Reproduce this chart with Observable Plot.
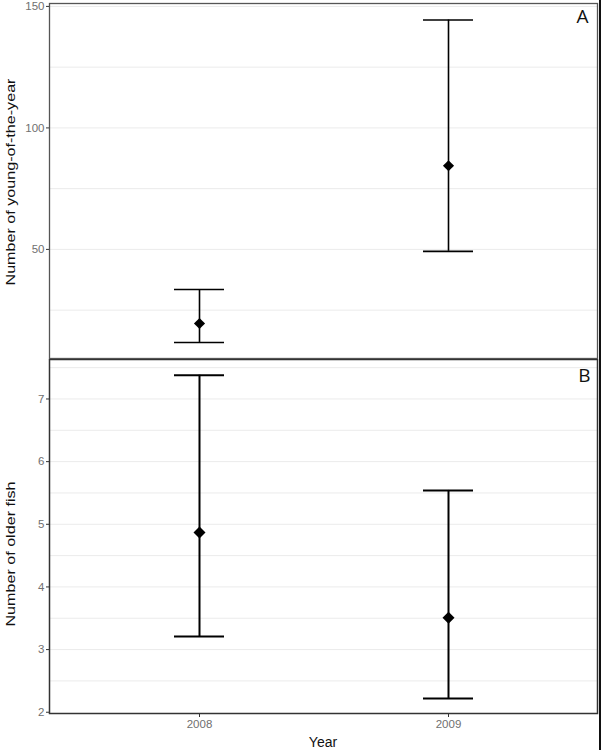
<!DOCTYPE html>
<html>
<head>
<meta charset="utf-8">
<script src="https://cdn.jsdelivr.net/npm/d3@7"></script>
<script src="https://cdn.jsdelivr.net/npm/@observablehq/plot@0.6"></script>
<style>
  html, body { margin: 0; padding: 0; background: #fff; }
  #wrap { position: relative; width: 602px; height: 750px; overflow: hidden; background: #fff;
          font-family: "Liberation Sans", Arial, sans-serif; }
  .panel { position: absolute; left: 0; }
  .ytitle { position: absolute; font-size: 13px; color: #111; white-space: nowrap;
            transform: translate(-50%, -50%) rotate(-90deg) scaleX(1.24); }
  .xtitle { position: absolute; font-size: 14px; color: #111; white-space: nowrap;
            transform: translate(-50%, -50%); }
  #edge { position: absolute; left: 599px; top: 0; width: 2px; height: 750px; background: #111; }
</style>
</head>
<body>
<div id="wrap">
  <div id="pA" class="panel" style="top:0px"></div>
  <div id="pB" class="panel" style="top:359px"></div>
  <div class="ytitle" style="left:10px; top:182px">Number of young-of-the-year</div>
  <div class="ytitle" style="left:10px; top:554px">Number of older fish</div>
  <div class="xtitle" style="left:323px; top:742px">Year</div>
  <div id="edge"></div>
</div>
<script>
// ---- data ----
const years = ["2008", "2009"];

// Panel A: young-of-the-year
const yoyMean  = [19.5, 84.4];
const yoyLower = [11.7, 49.2];
const yoyUpper = [33.5, 144.4];
const yoyTicks = [50, 100, 150];
const yoyGrid  = [25, 50, 75, 100, 125, 150];

// Panel B: older fish
const oldMean  = [4.87, 3.51];
const oldLower = [3.21, 2.22];
const oldUpper = [7.38, 5.54];
const oldTicks = [2, 3, 4, 5, 6, 7];
const oldGrid  = [2.5, 3, 3.5, 4, 4.5, 5, 5.5, 6, 6.5, 7, 7.5];

const panelLetters = ["A", "B"];

const rowsA = years.map((y, i) => ({year: y, mean: yoyMean[i], lo: yoyLower[i], hi: yoyUpper[i]}));
const rowsB = years.map((y, i) => ({year: y, mean: oldMean[i], lo: oldLower[i], hi: oldUpper[i]}));

const xScale = {type: "band", domain: years, paddingInner: 0.8, paddingOuter: 0.5};
const font = "'Liberation Sans', Arial, sans-serif";

function errMarks(rows, sw, r) {
  return [
    Plot.ruleX(rows, {x: "year", y1: "lo", y2: "hi", stroke: "#000", strokeWidth: sw}),
    Plot.tickY(rows, {x: "year", y: "lo", stroke: "#000", strokeWidth: sw}),
    Plot.tickY(rows, {x: "year", y: "hi", stroke: "#000", strokeWidth: sw}),
    Plot.dot(rows, {x: "year", y: "mean", symbol: "diamond2", r: r, fill: "#000", stroke: "none"})
  ];
}

const plotA = Plot.plot({
  width: 602, height: 360,
  marginLeft: 49, marginRight: 5, marginTop: 3, marginBottom: 2,
  style: {fontFamily: font, background: "transparent"},
  x: {...xScale, axis: null},
  y: {domain: [5.1, 151.2]},
  marks: [
    Plot.ruleY(yoyGrid, {stroke: "#ebebeb", strokeWidth: 1}),
    Plot.axisY(yoyTicks, {tickSize: 3, tickPadding: 2, fontSize: 11.5, fill: "#707070", stroke: "#333", label: null, tickFormat: "d"}),
    ...errMarks(rowsA, 1.6, 5),
    Plot.text([panelLetters[0]], {frameAnchor: "top-right", dx: -9, dy: 6, lineAnchor: "top", textAnchor: "end",
      fontSize: 19, fill: "#111", fontFamily: "'Open Sans', 'Liberation Sans', sans-serif"}),
    Plot.frame({stroke: "#555", strokeWidth: 1.3})
  ]
});
document.getElementById("pA").appendChild(plotA);

const plotB = Plot.plot({
  width: 602, height: 391,
  marginLeft: 49, marginRight: 5, marginTop: 0, marginBottom: 37,
  style: {fontFamily: font, background: "transparent"},
  x: xScale,
  y: {domain: [1.98, 7.63]},
  marks: [
    Plot.ruleY(oldGrid, {stroke: "#ebebeb", strokeWidth: 1}),
    Plot.axisY(oldTicks, {tickSize: 3, tickPadding: 2, fontSize: 11.5, fill: "#707070", stroke: "#333", label: null, tickFormat: "d"}),
    Plot.axisX(years, {tickSize: 4, tickPadding: 2, fontSize: 11.5, fill: "#707070", stroke: "#333", label: null}),
    ...errMarks(rowsB, 2, 5.4),
    Plot.text([panelLetters[1]], {frameAnchor: "top-right", dx: -7, dy: 9, lineAnchor: "top", textAnchor: "end",
      fontSize: 19, fill: "#111", fontFamily: "'Open Sans', 'Liberation Sans', sans-serif"}),
    Plot.frame({stroke: "#333", strokeWidth: 1.5})
  ]
});
document.getElementById("pB").appendChild(plotB);
</script>
</body>
</html>
